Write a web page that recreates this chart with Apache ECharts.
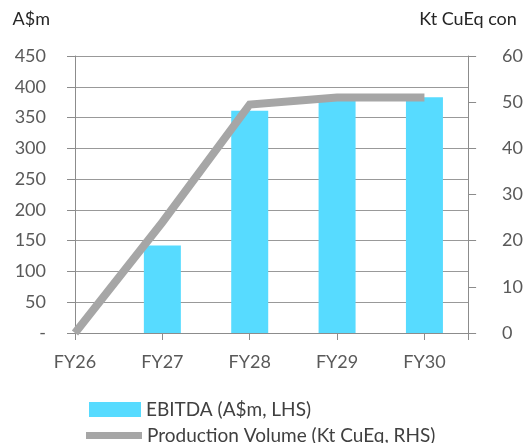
<!DOCTYPE html>
<html><head><meta charset="utf-8">
<script src="https://cdn.jsdelivr.net/npm/echarts@6/dist/echarts.min.js"></script>
<style>html,body{margin:0;padding:0;background:#fff}#c{width:526px;height:443px}</style>
</head><body><div id="c"></div>
<script>
const categories = ['FY26', 'FY27', 'FY28', 'FY29', 'FY30'];
const ebitda = [null, 142, 361, 379, 383];
const production = [0, 24, 49.5, 51, 51];
const leftTicks = [0, 50, 100, 150, 200, 250, 300, 350, 400, 450];
const rightTicks = [0, 10, 20, 30, 40, 50, 60];

const FONT = 'Lato';
const chart = echarts.init(document.getElementById('c'), null, {renderer: 'canvas'});
const barData = ebitda.map((v, i) => v == null ? null : [i, v]).filter(d => d);
const lineData = production.map((v, i) => [i, v]);
const legendText = {fontFamily: FONT, fontSize: 19, lineHeight: 16, color: '#404040'};

chart.setOption({
  animation: false,
  backgroundColor: '#fff',
  grid: {left: 75, right: 51, top: 56, bottom: 110, containLabel: false},
  legend: [
    {
      orient: 'horizontal', left: 89, top: 400, padding: 0, itemWidth: 52, itemHeight: 15,
      textStyle: legendText,
      data: [{name: 'EBITDA (A$m, LHS)', icon: 'rect'}]
    },
    {
      orient: 'horizontal', left: 86, top: 426, padding: 0, itemWidth: 56, itemHeight: 15,
      textStyle: legendText,
      data: [{name: 'Production Volume (Kt CuEq, RHS)', icon: 'path://M0,0 L56,0 L56,7 L0,7 Z', itemStyle: {color: '#A6A6A6'}}]
    }
  ],
  xAxis: {
    type: 'value', min: 0, max: 4.5, interval: 1,
    axisLine: {show: true, lineStyle: {color: '#8c8c8c', width: 1}},
    axisTick: {show: true, length: 7, lineStyle: {color: '#8c8c8c'}},
    splitLine: {show: false},
    axisLabel: {
      margin: 20, fontFamily: FONT, fontSize: 18, color: '#595959',
      formatter: v => Number.isInteger(v) && categories[v] ? categories[v] : ''
    }
  },
  yAxis: [
    {
      type: 'value', min: 0, max: 450, interval: 50, position: 'left',
      name: 'A$m', nameLocation: 'end', nameGap: 28,
      nameTextStyle: {fontFamily: FONT, fontSize: 18, color: '#262626', align: 'right', padding: [0, 25, 0, 0]},
      axisLine: {show: true, lineStyle: {color: '#8c8c8c'}},
      axisTick: {show: true, length: 8, lineStyle: {color: '#8c8c8c'}},
      splitLine: {show: true, lineStyle: {color: '#999999', width: 1}},
      axisLabel: {margin: 29, fontFamily: FONT, fontSize: 18, color: '#595959',
        formatter: v => v === 0 ? '-' : String(v)}
    },
    {
      type: 'value', min: 0, max: 60, interval: 10, position: 'right',
      name: 'Kt CuEq con', nameLocation: 'end', nameGap: 28,
      nameTextStyle: {fontFamily: FONT, fontSize: 18, color: '#262626', align: 'center'},
      axisLine: {show: true, lineStyle: {color: '#8c8c8c'}},
      axisTick: {show: true, length: 8, lineStyle: {color: '#8c8c8c'}},
      splitLine: {show: false},
      axisLabel: {margin: 24, fontFamily: FONT, fontSize: 18, color: '#595959', align: 'left', padding: [0, 0, 0, 10]}
    }
  ],
  series: [
    {
      name: 'EBITDA (A$m, LHS)', type: 'bar', yAxisIndex: 0, data: barData,
      barWidth: 37, itemStyle: {color: '#57DBFF'}, z: 2
    },
    {
      name: 'Production Volume (Kt CuEq, RHS)', type: 'line', yAxisIndex: 1, data: lineData,
      showSymbol: false, symbol: 'none', lineStyle: {color: '#A6A6A6', width: 8, join: 'miter'},
      itemStyle: {color: '#A6A6A6'}, z: 3
    }
  ]
});
</script></body></html>
